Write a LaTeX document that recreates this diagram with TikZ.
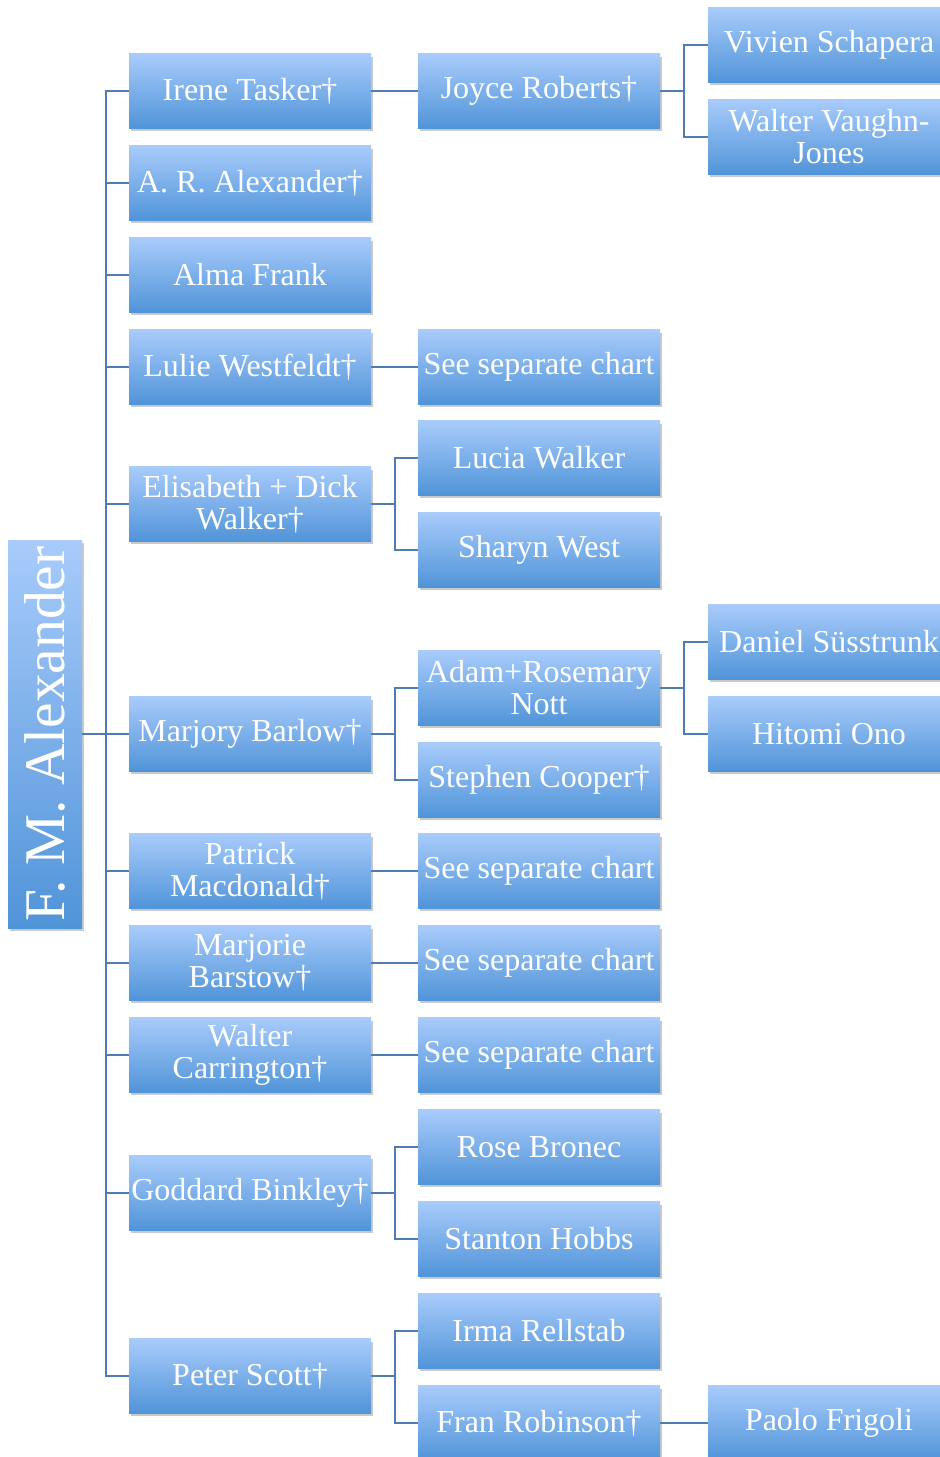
\documentclass[tikz,border=0pt]{standalone}
\usepackage{fontspec}
\setmainfont{Liberation Serif}
\usetikzlibrary{shadows}
\definecolor{boxtop}{RGB}{168,203,251}
\definecolor{boxbot}{RGB}{80,148,216}
\definecolor{linkblue}{RGB}{79,124,178}

\begin{document}
\begin{tikzpicture}[line cap=round,line join=round,x=1pt,y=-1pt]
  \tikzset{
  % one box of the chart
  box/.style={rectangle, minimum width=242, minimum height=74.5, inner sep=2pt,
    top color=boxtop, bottom color=boxbot, text=white, align=center,
    font=\fontsize{32}{32}\selectfont,
    drop shadow={shadow xshift=1.5pt, shadow yshift=-3pt, opacity=.3, fill=black!70}},
  % connector lines
  link/.style={draw=linkblue, line width=2pt, line cap=butt, line join=miter},
}
\useasboundingbox (0,0) rectangle (940,1457);
\clip (0,0) rectangle (940,1457);

\node[box, minimum width=74, minimum height=388] (FMA) at (45,734)
  {\rotatebox{90}{\fontsize{57.5}{57.5}\selectfont F. M. Alexander}};

% first generation
\node[box] (Irene) at (250,91) {Irene Tasker†};
\node[box] (ARA) at (250,183) {A. R. Alexander†};
\node[box] (Alma) at (250,275) {Alma Frank};
\node[box] (Lulie) at (250,367) {Lulie Westfeldt†};
\node[box] (Elisabeth) at (250,504) {Elisabeth + Dick\\Walker†};
\node[box] (Marjory) at (250,734) {Marjory Barlow†};
\node[box] (Patrick) at (250,871) {Patrick\\Macdonald†};
\node[box] (Marjorie) at (250,963) {Marjorie\\Barstow†};
\node[box] (Carrington) at (250,1055) {Walter\\Carrington†};
\node[box] (Goddard) at (250,1193) {Goddard Binkley†};
\node[box] (Peter) at (250,1376) {Peter Scott†};

% second generation
\node[box] (Joyce) at (539,91) {Joyce Roberts†};
\node[box] (SepA) at (539,367) {See separate chart};
\node[box] (Lucia) at (539,458) {Lucia Walker};
\node[box] (Sharyn) at (539,550) {Sharyn West};
\node[box] (Adam) at (539,688) {Adam+Rosemary\\Nott};
\node[box] (Stephen) at (539,780) {Stephen Cooper†};
\node[box] (SepB) at (539,871) {See separate chart};
\node[box] (SepC) at (539,963) {See separate chart};
\node[box] (SepD) at (539,1055) {See separate chart};
\node[box] (Rose) at (539,1147) {Rose Bronec};
\node[box] (Stanton) at (539,1239) {Stanton Hobbs};
\node[box] (Irma) at (539,1331) {Irma Rellstab};
\node[box] (Fran) at (539,1423) {Fran Robinson†};

% third generation
\node[box] (Vivien) at (829,45) {Vivien Schapera};
\node[box] (Vaughn) at (829,137) {Walter Vaughn-\\Jones};
\node[box] (Daniel) at (829,642) {Daniel Süsstrunk};
\node[box] (Hitomi) at (829,734) {Hitomi Ono};
\node[box] (Paolo) at (829,1423) {Paolo Frigoli};

\foreach \n in {Irene,ARA,Alma,Lulie,Elisabeth,Marjory,Patrick,Marjorie,Carrington,Goddard,Peter}
  \draw[link] (FMA.east) -- ++(23.5,0) |- (\n.west);

\draw[link] (Irene.east) -- (Joyce.west);
\draw[link] (Lulie.east) -- (SepA.west);
\draw[link] (Patrick.east) -- (SepB.west);
\draw[link] (Marjorie.east) -- (SepC.west);
\draw[link] (Carrington.east) -- (SepD.west);
\draw[link] (Fran.east) -- (Paolo.west);
\foreach \p/\c in {Elisabeth/Lucia,Elisabeth/Sharyn,Marjory/Adam,Marjory/Stephen,
  Goddard/Rose,Goddard/Stanton,Peter/Irma,Peter/Fran,
  Joyce/Vivien,Joyce/Vaughn,Adam/Daniel,Adam/Hitomi}
  \draw[link] (\p.east) -- ++(23.5,0) |- (\c.west);
\end{tikzpicture}
\end{document}
